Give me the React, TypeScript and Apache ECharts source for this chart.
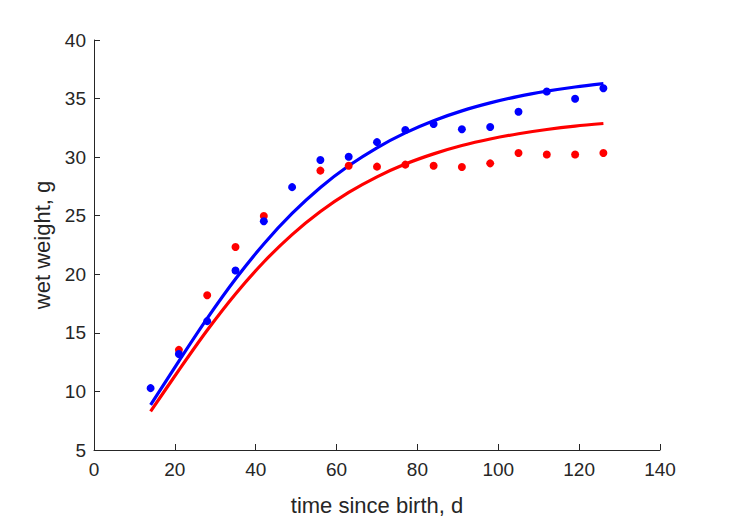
import React, { useEffect, useRef } from "react";
import * as echarts from "echarts";

const obsDaysBlue = [14, 21, 28, 35, 42, 49, 56, 63, 70, 77, 84, 91, 98, 105, 112, 119, 126];
const obsWeightBlue = [10.28, 13.19, 16.0, 20.33, 24.53, 27.44, 29.75, 30.04, 31.28, 32.32, 32.83, 32.38, 32.58, 33.88, 35.6, 34.98, 35.88];

const obsDaysRed = [21, 28, 35, 42, 56, 63, 70, 77, 84, 91, 98, 105, 112, 119, 126];
const obsWeightRed = [13.55, 18.21, 22.33, 24.98, 28.85, 29.27, 29.19, 29.36, 29.27, 29.16, 29.47, 30.35, 30.23, 30.23, 30.35];

const fitDays = [14, 21, 28, 35, 42, 49, 56, 63, 70, 77, 84, 91, 98, 105, 112, 119, 126];
const fitWeightBlue = [8.85, 12.59, 16.23, 19.59, 22.59, 25.19, 27.41, 29.26, 30.8, 32.07, 33.11, 33.95, 34.63, 35.19, 35.63, 35.99, 36.28];
const fitWeightRed = [8.29, 11.82, 15.22, 18.32, 21.05, 23.39, 25.36, 26.99, 28.32, 29.41, 30.28, 30.99, 31.55, 32.0, 32.36, 32.65, 32.87];

const xTicks = { min: 0, max: 140, interval: 20 };
const yTicks = { min: 5, max: 40, interval: 5 };

const pair = (xs: number[], ys: number[]) => xs.map((x, i) => [x, ys[i]]);

const BLUE = "#0000FF";
const RED = "#FF0000";
const AX = "#262626";
const FONT = "Liberation Sans, Arial, Helvetica, sans-serif";

export default function App() {
  const ref = useRef<HTMLDivElement>(null);
  useEffect(() => {
    if (!ref.current) return;
    const chart = echarts.init(ref.current, undefined, { renderer: "svg" });
    const axisCommon = {
      axisLine: { show: true, lineStyle: { color: AX, width: 1 } },
      axisTick: { show: true, inside: true, length: 6, lineStyle: { color: AX } },
      splitLine: { show: false },
      axisLabel: { color: AX, fontSize: 19, fontFamily: FONT },
      nameTextStyle: { color: AX, fontSize: 22, fontFamily: FONT },
      nameLocation: "middle" as const,
    };
    chart.setOption({
      animation: false,
      backgroundColor: "#ffffff",
      grid: { left: 94, right: 69, top: 40, bottom: 68, containLabel: false },
      xAxis: {
        type: "value",
        ...xTicks,
        name: "time since birth, d",
        nameGap: 44,
        ...axisCommon,
        axisLabel: { ...axisCommon.axisLabel, margin: 10 },
      },
      yAxis: {
        type: "value",
        ...yTicks,
        name: "wet weight, g",
        nameGap: 39,
        ...axisCommon,
        axisLabel: { ...axisCommon.axisLabel, margin: 8 },
      },
      series: [
        {
          type: "line",
          data: pair(fitDays, fitWeightRed),
          showSymbol: false,
          smooth: 0.3,
          lineStyle: { color: RED, width: 3.2 },
          z: 1,
        },
        {
          type: "line",
          data: pair(fitDays, fitWeightBlue),
          showSymbol: false,
          smooth: 0.3,
          lineStyle: { color: BLUE, width: 3.2 },
          z: 2,
        },
        {
          type: "scatter",
          data: pair(obsDaysRed, obsWeightRed),
          symbolSize: 8,
          itemStyle: { color: RED, opacity: 1 },
          z: 3,
        },
        {
          type: "scatter",
          data: pair(obsDaysBlue, obsWeightBlue),
          symbolSize: 8,
          itemStyle: { color: BLUE, opacity: 1 },
          z: 4,
        },
      ],
    });
    return () => chart.dispose();
  }, []);
  return <div ref={ref} style={{ width: 729, height: 521, position: "absolute", left: 0, top: 0 }} />;
}
